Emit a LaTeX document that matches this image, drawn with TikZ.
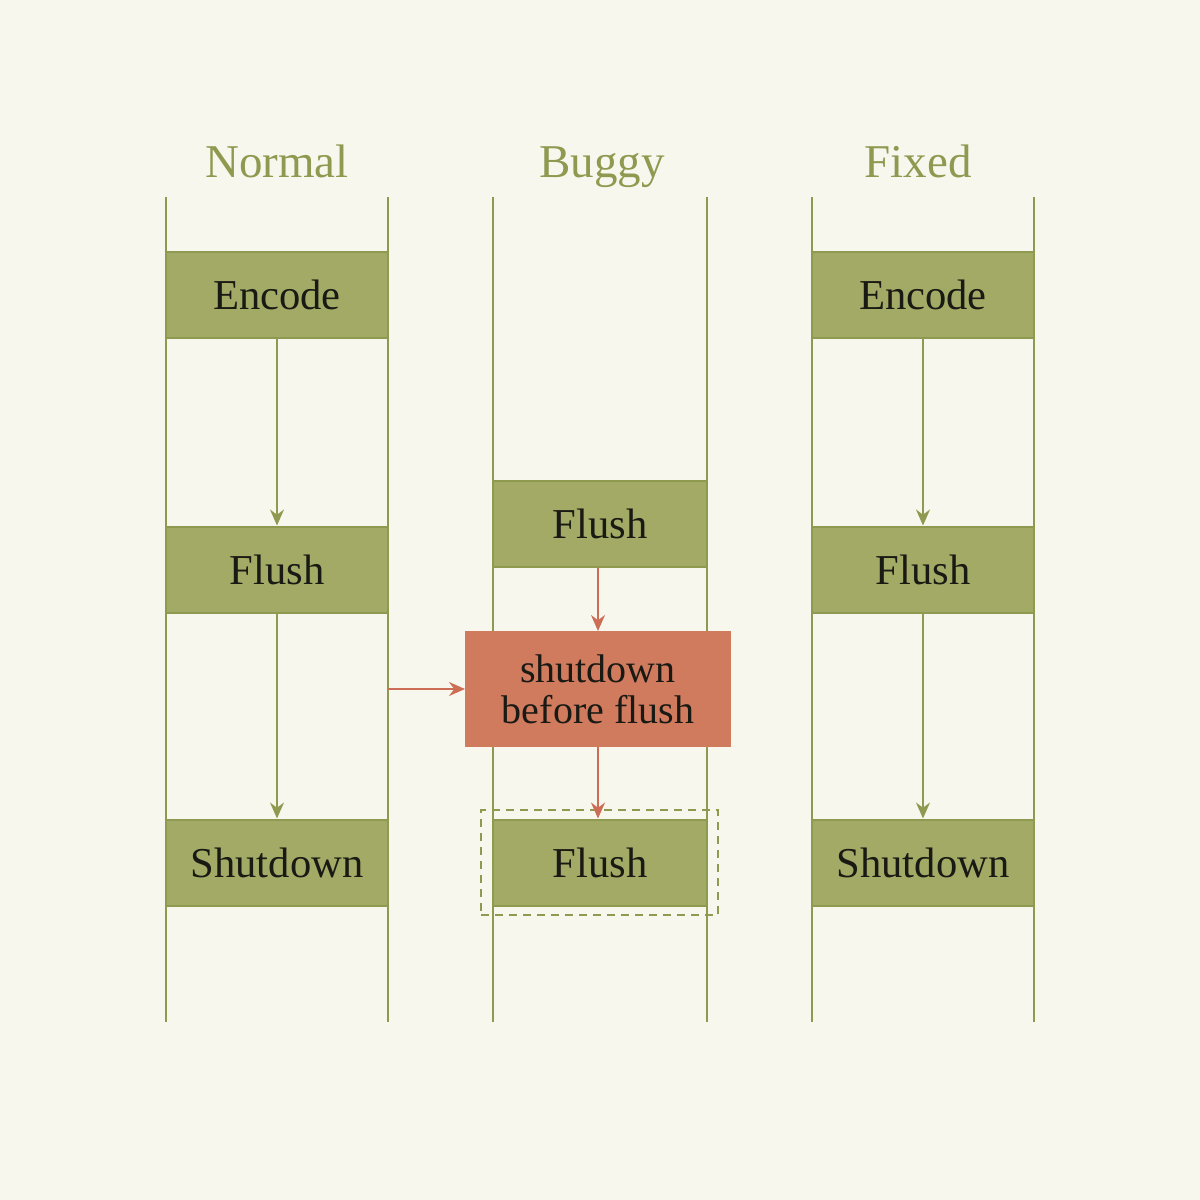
\documentclass[tikz,border=0pt]{standalone}
\usepackage{fontspec}
\setmainfont{Liberation Serif}
\usetikzlibrary{arrows.meta}
\definecolor{bg}{HTML}{F8F7EE}
\definecolor{olive}{HTML}{8F9A50}
\definecolor{olivefill}{HTML}{A3AA66}
\definecolor{redfill}{HTML}{D07A5E}
\definecolor{redline}{HTML}{CC6E55}
\definecolor{ink}{HTML}{1A1A14}
\tikzset{
  stagebox/.style={rectangle, fill=olivefill, draw=olive, line width=1pt, minimum width=111pt, minimum height=43pt, inner sep=0pt, text=ink, font=\fontsize{21.3}{23}\selectfont},
  bugbox/.style={rectangle, fill=redfill, draw=redfill, line width=1pt, minimum width=132pt, minimum height=57pt, inner sep=0pt, align=center, text=ink, font=\fontsize{20}{20.5}\selectfont},
  lane/.style={draw=olive, line width=1pt},
  title/.style={text=olive, font=\fontsize{23.5}{26}\selectfont, anchor=base},
  garrow/.style={draw=olive, line width=1pt, -{Stealth[length=8pt,width=7pt]}},
  rarrow/.style={draw=redline, line width=1pt, -{Stealth[length=8pt,width=7pt]}},
  dashbox/.style={draw=olive, line width=1pt, dash pattern=on 4pt off 3pt, minimum width=118.5pt, minimum height=52.5pt, inner sep=0pt}
}
\begin{document}
\begin{tikzpicture}[x=0.5pt,y=-0.5pt]
\fill[bg] (0,0) rectangle (1200,1200);
\useasboundingbox (0,0) rectangle (1200,1200);
% lanes
\foreach \xa/\xb/\n in {166/388/a,493/707/b,812/1034/c}{
  \coordinate (\n lt) at (\xa,197); \coordinate (\n lb) at (\xa,1022);
  \coordinate (\n rt) at (\xb,197); \coordinate (\n rb) at (\xb,1022);
  \draw[lane] (\n lt) -- (\n lb);
  \draw[lane] (\n rt) -- (\n rb);
}
% titles
\node[title] (tn) at (277,177) {Normal};
\node[title] (tb) at (602,177) {Buggy};
\node[title] (tf) at (918,177) {Fixed};
% normal column
\node[stagebox] (enc1) at (277,295) {Encode};
\node[stagebox] (fl1) at (277,569.5) {Flush};
\node[stagebox] (sd1) at (277,862.5) {Shutdown};
\draw[garrow] (enc1.south) -- (fl1.north);
\draw[garrow] (fl1.south) -- (sd1.north);
% buggy column
\node[stagebox, minimum width=107pt] (fl2) at (600,523.5) {Flush};
\node[dashbox] (dash) at (599.5,862.5) {};
\node[stagebox, minimum width=107pt] (fl2b) at (600,862.5) {Flush};
\node[bugbox] (bug) at (598,689) {shutdown\\before flush};
\draw[rarrow] (fl2.south -| bug.north) -- (bug.north);
\draw[rarrow] (bug.south) -- (bug.south |- fl2b.north);
\coordinate (src) at (388,689);
\draw[rarrow] (src) -- (bug.west);
% fixed column
\node[stagebox] (enc3) at (923,295) {Encode};
\node[stagebox] (fl3) at (923,569.5) {Flush};
\node[stagebox] (sd3) at (923,862.5) {Shutdown};
\draw[garrow] (enc3.south) -- (fl3.north);
\draw[garrow] (fl3.south) -- (sd3.north);
\end{tikzpicture}
\end{document}
